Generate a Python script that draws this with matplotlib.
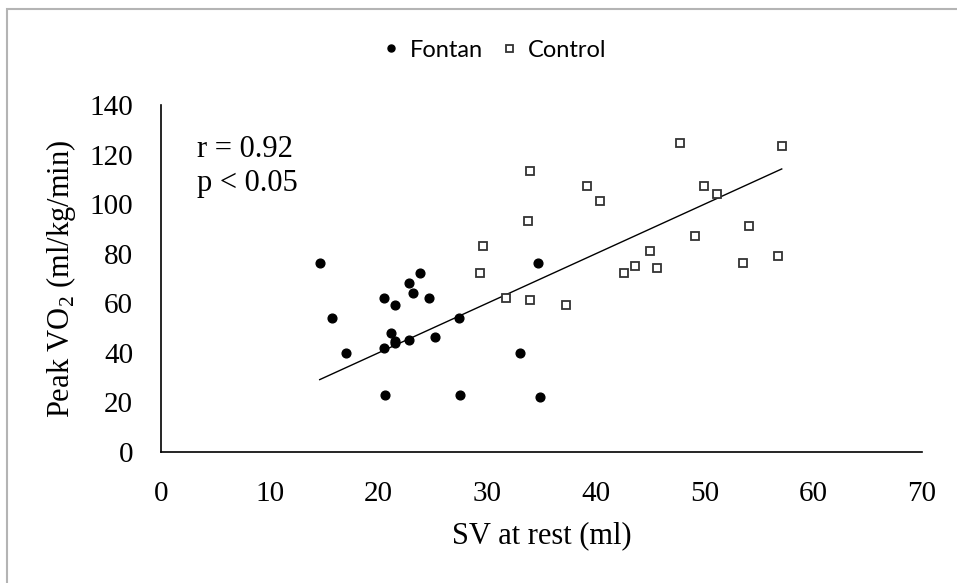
import numpy as np
import matplotlib
matplotlib.use('Agg')
import matplotlib.pyplot as plt
from matplotlib.patches import Rectangle

# Data (SV at rest in ml, peak VO2 in ml/kg/min)
fontan_sv = [14.6, 15.7, 17.0, 20.5, 21.5, 21.2, 21.5, 21.5, 20.5, 22.8, 23.2,
             23.8, 24.7, 22.8, 25.2, 20.6, 27.4, 27.5, 34.7, 34.9, 33.0]
fontan_vo2 = [76.4, 54.1, 40.1, 62.1, 59.2, 48.1, 44.9, 43.8, 42.1, 68.1, 64.0,
              72.2, 62.2, 45.2, 46.3, 23.1, 54.2, 23.0, 76.3, 22.0, 40.1]
control_sv = [47.7, 57.1, 33.9, 39.2, 40.4, 49.95, 51.1, 33.8, 29.6, 29.3, 54.1,
              49.1, 45.0, 43.6, 45.6, 42.6, 53.5, 56.8, 31.7, 33.9, 37.3]
control_vo2 = [124.5, 123.4, 113.2, 107.3, 101.3, 107.3, 104.2, 93.3, 83.1, 72.2, 91.2,
               87.3, 81.2, 75.2, 74.2, 72.2, 76.1, 79.2, 62.1, 61.2, 59.2]
stats_text = ['r = 0.92', 'p < 0.05']

plt.rcParams['font.family'] = 'Liberation Serif'
plt.rcParams['mathtext.fontset'] = 'custom'
plt.rcParams['mathtext.rm'] = 'Liberation Serif'

fig = plt.figure(figsize=(9.57, 5.83), dpi=100)
ax = fig.add_axes([0.1682, 0.2247, 0.7952, 0.5952])

# light grey frame around the chart area
fig.patches.append(Rectangle((7 / 957, -0.1), 1.2, 1 - 9 / 583 + 0.1, transform=fig.transFigure,
                             fill=False, edgecolor='#b4b4b4', linewidth=1.5))

ax.plot(fontan_sv, fontan_vo2, 'o', color='black', markersize=6.3, label='Fontan', zorder=3)
ax.plot(control_sv, control_vo2, 's', markerfacecolor='white', markeredgecolor='#333333',
        markeredgewidth=1.3, markersize=6.3, label='Control', zorder=3)

# linear trendline over all subjects, intercept fixed at 0
all_x = np.array(fontan_sv + control_sv)
all_y = np.array(fontan_vo2 + control_vo2)
k = np.sum(all_x * all_y) / np.sum(all_x ** 2)
xs = np.array([all_x.min(), all_x.max()])
ax.plot(xs, k * xs, color='black', linewidth=1, zorder=2)

ax.set_xlim(0, 70)
ax.set_ylim(0, 140)
ax.set_xticks(np.arange(0, 71, 10))
ax.set_yticks(np.arange(0, 141, 20))
ax.tick_params(length=0, labelsize=21)
ax.tick_params(axis='x', pad=21)
ax.tick_params(axis='y', pad=20)
for side in ['top', 'right']:
    ax.spines[side].set_visible(False)
for side in ['left', 'bottom']:
    ax.spines[side].set_linewidth(1.2)

ax.set_xlabel('SV at rest (ml)', fontsize=22, labelpad=10)
ax.set_ylabel('Peak VO$_\\mathrm{2}$ (ml/kg/min)', fontsize=22, labelpad=8)

ax.text(0.047, 0.873, stats_text[0], transform=ax.transAxes, fontsize=22, va='center')
ax.text(0.047, 0.773, stats_text[1], transform=ax.transAxes, fontsize=22, va='center')

ax.legend(loc='center', bbox_to_anchor=(0.438, 1.158), ncol=2, frameon=False,
          prop={'family': 'Lato', 'size': 17}, handlelength=0.8, handletextpad=0.4,
          columnspacing=0.7, markerscale=0.8)

fig.savefig('out.png', dpi=100)
